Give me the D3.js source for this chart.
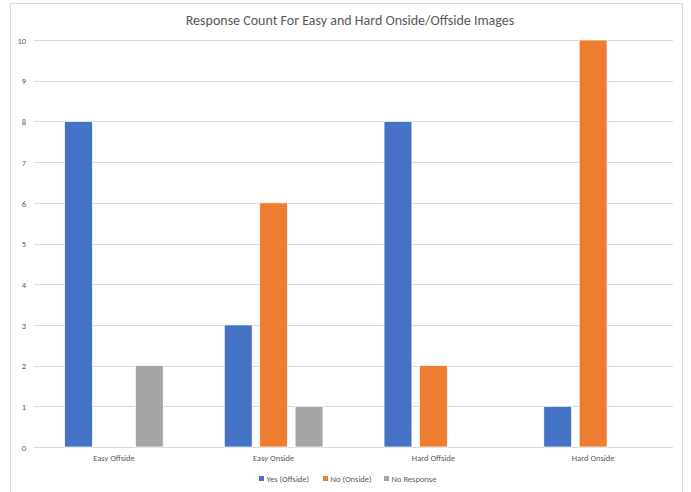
<!DOCTYPE html>
<html>
<head>
<meta charset="utf-8">
<script src="https://cdn.jsdelivr.net/npm/d3@7"></script>
<style>
  html, body { margin: 0; padding: 0; background: #fff; }
  svg { display: block; font-family: Calibri, Carlito, Lato, sans-serif; }
</style>
</head>
<body>
<svg id="chart" width="691" height="492"></svg>
<script>
// Response counts per image type
const categories = ["Easy Offside", "Easy Onside", "Hard Offside", "Hard Onside"];
const seriesNames = ["Yes (Offside)", "No (Onside)", "No Response"];
const yesOffside = [8, 3, 8, 1];
const noOnside = [0, 6, 2, 10];
const noResponse = [2, 1, 0, 0];
const yTicks = [0, 1, 2, 3, 4, 5, 6, 7, 8, 9, 10];
const colors = ["#4472C4", "#ED7D31", "#A5A5A5"];
const titleText = "Response Count For Easy and Hard Onside/Offside Images";

const seriesValues = [yesOffside, noOnside, noResponse];
const rows = categories.map((c, i) => ({
  category: c,
  values: seriesNames.map((s, j) => ({ series: s, value: seriesValues[j][i], color: colors[j] }))
}));

const svg = d3.select("#chart");
const textColor = "#595959";

// chart frame
svg.append("rect")
  .attr("x", 10.5).attr("y", 3.5)
  .attr("width", 672).attr("height", 500)
  .attr("fill", "#fff").attr("stroke", "#D9D9D9").attr("stroke-width", 1);

const plot = { left: 34, right: 673, top: 40, bottom: 447 };

// gap width 219%, series overlap -27%
const x0 = d3.scaleBand().domain(categories).range([plot.left, plot.right]).paddingInner(0).paddingOuter(0);
const x1 = d3.scaleBand().domain(seriesNames).range([0, x0.bandwidth()])
  .paddingInner(0.27 / 1.27).paddingOuter(1.095 / 1.27);
const y = d3.scaleLinear().domain([0, 10]).range([plot.bottom, plot.top]);

// gridlines
svg.append("g").selectAll("line").data(yTicks).join("line")
  .attr("x1", plot.left).attr("x2", plot.right)
  .attr("y1", d => Math.round(y(d)) + 0.5).attr("y2", d => Math.round(y(d)) + 0.5)
  .attr("stroke", "#D9D9D9").attr("stroke-width", 1);

// y axis labels
const yAxis = d3.axisLeft(y).tickValues(yTicks).tickSize(0).tickPadding(0).tickFormat(d3.format("d"));
const yg = svg.append("g").attr("transform", `translate(${plot.left - 8},0.5)`).call(yAxis);
yg.select(".domain").remove();
yg.selectAll("text").attr("fill", textColor).attr("font-size", 8.5).attr("font-family", "Calibri, Carlito, Lato, sans-serif");

// bars
const groups = svg.append("g").selectAll("g").data(rows).join("g")
  .attr("transform", d => `translate(${x0(d.category)},0)`);
groups.selectAll("rect").data(d => d.values.filter(v => v.value > 0)).join("rect")
  .attr("x", d => x1(d.series))
  .attr("width", x1.bandwidth())
  .attr("y", d => y(d.value))
  .attr("height", d => y(0) - y(d.value))
  .attr("fill", d => d.color)
  .attr("stroke", "#fff").attr("stroke-width", 0.75);

// category axis
const xAxis = d3.axisBottom(x0).tickSize(0).tickPadding(0);
const xg = svg.append("g").attr("transform", `translate(0,${plot.bottom + 8})`).call(xAxis);
xg.select(".domain").remove();
xg.selectAll("text").attr("fill", textColor).attr("font-size", 8.5).attr("font-family", "Calibri, Carlito, Lato, sans-serif");

// title
svg.append("text")
  .attr("x", 350).attr("y", 24.5)
  .attr("text-anchor", "middle")
  .attr("fill", textColor)
  .attr("font-size", 14)
  .text(titleText);

// legend
const legendX = [259, 323, 384];
const legend = svg.append("g").selectAll("g").data(seriesNames).join("g")
  .attr("transform", (d, i) => `translate(${legendX[i]},478.5)`);
legend.append("rect").attr("x", 0).attr("y", -2.5).attr("width", 5).attr("height", 5)
  .attr("fill", (d, i) => colors[i]);
legend.append("text").attr("x", 7.5).attr("y", 3)
  .attr("fill", textColor).attr("font-size", 8.5)
  .text(d => d);
</script>
</body>
</html>
